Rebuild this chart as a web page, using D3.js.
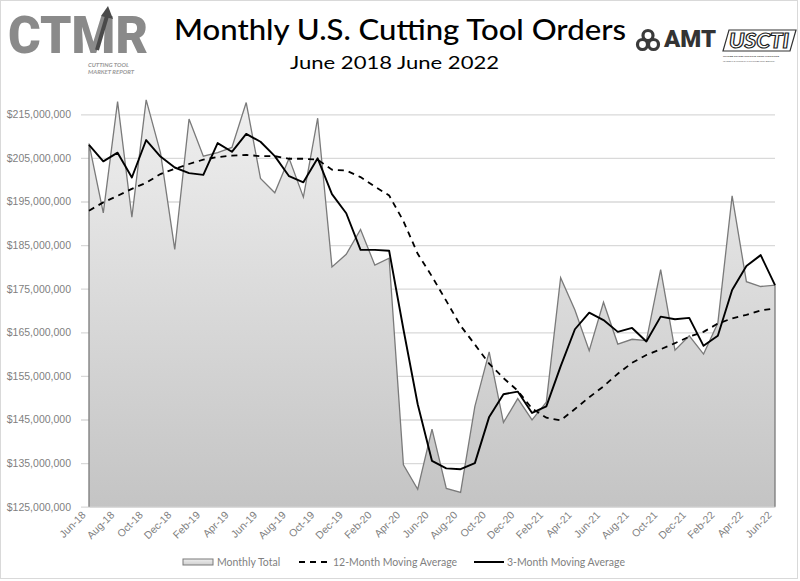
<!DOCTYPE html>
<html>
<head>
<meta charset="utf-8">
<script src="https://cdn.jsdelivr.net/npm/d3@7"></script>
<style>
  body { margin: 0; background: #fff; }
  svg { display: block; font-family: Lato, "Open Sans", sans-serif; }
</style>
</head>
<body>
<div id="chart"></div>
<script>
// Monthly U.S. cutting tool orders, values in millions of dollars
var months = ["Jun-18","Jul-18","Aug-18","Sep-18","Oct-18","Nov-18","Dec-18","Jan-19","Feb-19","Mar-19","Apr-19","May-19",
              "Jun-19","Jul-19","Aug-19","Sep-19","Oct-19","Nov-19","Dec-19","Jan-20","Feb-20","Mar-20","Apr-20","May-20",
              "Jun-20","Jul-20","Aug-20","Sep-20","Oct-20","Nov-20","Dec-20","Jan-21","Feb-21","Mar-21","Apr-21","May-21",
              "Jun-21","Jul-21","Aug-21","Sep-21","Oct-21","Nov-21","Dec-21","Jan-22","Feb-22","Mar-22","Apr-22","May-22","Jun-22"];

var monthlyTotal = [208.3,192.4,217.9,191.4,218.3,206.2,184.0,213.9,205.4,206.2,207.4,217.7,
                    200.3,197.0,204.9,196.0,214.1,180.0,182.9,188.6,180.4,182.0,134.6,129.0,
                    142.8,129.2,128.3,148.0,160.5,144.3,149.8,144.9,149.0,177.5,170.1,160.8,
                    171.9,162.3,163.4,163.1,179.4,160.9,164.2,160.0,167.1,196.3,176.6,175.5,175.8];

var movingAvg12 = [192.9,194.8,196.3,197.9,199.3,201.3,202.5,203.6,204.6,205.2,205.5,205.7,
                   205.4,205.4,204.8,204.8,204.6,202.3,202.1,200.6,198.4,196.4,190.5,183.0,
                   177.8,172.2,166.5,162.2,157.8,154.5,151.6,147.5,145.4,144.8,147.4,150.1,
                   152.6,155.5,158.0,159.8,161.1,162.5,164.0,165.1,167.0,168.2,169.0,170.0,170.5];

var movingAvg3 = [208.0,204.2,206.2,200.5,209.1,205.3,202.8,201.5,201.1,208.4,206.4,210.5,
                  208.7,205.4,200.8,199.4,204.9,196.7,192.3,183.9,183.9,183.7,165.7,148.5,
                  135.5,133.8,133.6,135.0,145.6,150.8,151.4,146.5,148.0,157.2,165.7,169.5,
                  167.8,165.1,166.0,162.9,168.6,168.0,168.3,161.9,164.2,174.7,180.2,182.7,175.8];

var yTicks = [125,135,145,155,165,175,185,195,205,215];
var xTickLabels = months.filter(function (d, i) { return i % 2 === 0; });

var W = 800, H = 581;
var plot = {left: 89, right: 775, top: 92.5, bottom: 506.7};

var svg = d3.select("#chart").append("svg")
    .attr("width", W).attr("height", H);

// outer chart border
svg.append("rect")
    .attr("x", 0.5).attr("y", 0.5)
    .attr("width", 797).attr("height", 578)
    .attr("fill", "#fff").attr("stroke", "#d9d9d9");

var xScale = d3.scalePoint().domain(months).range([plot.left, plot.right]);
var yScale = d3.scaleLinear().domain([125, 220]).range([plot.bottom, plot.top]);

var defs = svg.append("defs");
var grad = defs.append("linearGradient")
    .attr("id", "areaFill").attr("gradientUnits", "userSpaceOnUse")
    .attr("x1", 0).attr("y1", plot.top).attr("x2", 0).attr("y2", plot.bottom);
grad.append("stop").attr("offset", "0%").attr("stop-color", "#f0f0f0");
grad.append("stop").attr("offset", "100%").attr("stop-color", "#c4c4c4");

var legGrad = defs.append("linearGradient")
    .attr("id", "legFill").attr("x1", 0).attr("y1", 0).attr("x2", 0).attr("y2", 1);
legGrad.append("stop").attr("offset", "0%").attr("stop-color", "#eeeeee");
legGrad.append("stop").attr("offset", "100%").attr("stop-color", "#cfcfcf");

// gridlines + y labels (gridlines poke out a little left of the plot, like the original)
var yAxis = d3.axisLeft(yScale)
    .tickValues(yTicks)
    .tickSize(-(plot.right - plot.left))
    .tickPadding(18)
    .tickFormat(function (d) { return d3.format("$,.0f")(d * 1e6); });

var gy = svg.append("g")
    .attr("class", "y-axis")
    .attr("transform", "translate(" + plot.left + ",0)")
    .call(yAxis);
gy.select(".domain").remove();
gy.selectAll(".tick line")
    .attr("x1", -8)
    .attr("stroke", "#d9d9d9").attr("stroke-width", 1.3);
gy.selectAll(".tick text")
    .attr("fill", "#7f7f7f")
    .style("font-size", "10.5px");

// x axis
var xAxis = d3.axisBottom(xScale)
    .tickValues(xTickLabels)
    .tickSize(0)
    .tickPadding(0);

var gx = svg.append("g")
    .attr("class", "x-axis")
    .attr("transform", "translate(0," + plot.bottom + ")")
    .call(xAxis);
gx.select(".domain").attr("stroke", "#d9d9d9").attr("stroke-width", 1.3);
gx.selectAll(".tick text")
    .attr("fill", "#7f7f7f")
    .style("font-size", "10.5px")
    .attr("text-anchor", "end")
    .attr("dy", null)
    .attr("y", 0)
    .attr("transform", "translate(-3,9) rotate(-45)");

// monthly total area
var area = d3.area()
    .x(function (d, i) { return xScale(months[i]); })
    .y0(plot.bottom)
    .y1(function (d) { return yScale(d); });

svg.append("path")
    .datum(monthlyTotal)
    .attr("d", area)
    .attr("fill", "url(#areaFill)");

// outline of area: up the left edge, along the values, down the right edge
var outline = [[xScale(months[0]), plot.bottom]]
    .concat(monthlyTotal.map(function (d, i) { return [xScale(months[i]), yScale(d)]; }))
    .concat([[xScale(months[months.length - 1]), plot.bottom]]);

svg.append("path")
    .attr("d", d3.line()(outline))
    .attr("fill", "none")
    .attr("stroke", "#7a7a7a")
    .attr("stroke-width", 1.3);

var line = d3.line()
    .x(function (d, i) { return xScale(months[i]); })
    .y(function (d) { return yScale(d); });

svg.append("path")
    .datum(movingAvg12)
    .attr("d", line)
    .attr("fill", "none")
    .attr("stroke", "#000")
    .attr("stroke-width", 1.8)
    .attr("stroke-dasharray", "6,5");

svg.append("path")
    .datum(movingAvg3)
    .attr("d", line)
    .attr("fill", "none")
    .attr("stroke", "#000")
    .attr("stroke-width", 1.9)
    .attr("stroke-linejoin", "round");

// legend
var leg = svg.append("g").attr("class", "legend")
    .style("font-size", "10.5px").attr("fill", "#7f7f7f");

leg.append("rect")
    .attr("x", 183).attr("y", 559).attr("width", 30).attr("height", 6)
    .attr("fill", "url(#legFill)").attr("stroke", "#7a7a7a").attr("stroke-width", 1);
leg.append("text").attr("x", 217).attr("y", 566).text("Monthly Total");

leg.append("line")
    .attr("x1", 299).attr("x2", 330).attr("y1", 562).attr("y2", 562)
    .attr("stroke", "#000").attr("stroke-width", 2).attr("stroke-dasharray", "6,5");
leg.append("text").attr("x", 333).attr("y", 566).text("12-Month Moving Average");

leg.append("line")
    .attr("x1", 474).attr("x2", 504).attr("y1", 562).attr("y2", 562)
    .attr("stroke", "#000").attr("stroke-width", 2);
leg.append("text").attr("x", 507).attr("y", 566).text("3-Month Moving Average");

// titles
svg.append("text")
    .attr("x", 174).attr("y", 40)
    .attr("textLength", 452).attr("lengthAdjust", "spacingAndGlyphs")
    .style("font-size", "29px").style("font-weight", 500).attr("fill", "#000")
    .text("Monthly U.S. Cutting Tool Orders");

svg.append("text")
    .attr("x", 290).attr("y", 68.5)
    .attr("textLength", 209).attr("lengthAdjust", "spacingAndGlyphs")
    .style("font-size", "18px").attr("fill", "#000")
    .text("June 2018 June 2022");

// CTMR logo
var logo = svg.append("g").attr("class", "ctmr");
logo.append("text")
    .attr("x", 8).attr("y", 53)
    .attr("textLength", 140).attr("lengthAdjust", "spacingAndGlyphs")
    .style("font-family", "Roboto, 'Liberation Sans', sans-serif")
    .style("font-size", "52px").style("font-weight", 900)
    .attr("fill", "#8a8a8a")
    .text("CTMR");
logo.append("path")
    .attr("d", "M97,50 L107,16")
    .attr("stroke", "#4a4a4a").attr("stroke-width", 4).attr("fill", "none");
logo.append("path")
    .attr("d", "M101,16 L108,6 L113,19 Z")
    .attr("fill", "#4a4a4a");
logo.append("text")
    .attr("x", 88).attr("y", 67)
    .style("font-size", "6px").style("font-style", "italic").style("font-weight", 700)
    .attr("fill", "#9a9a9a").text("CUTTING TOOL");
logo.append("text")
    .attr("x", 88).attr("y", 73.5)
    .style("font-size", "6px").style("font-style", "italic").style("font-weight", 700)
    .attr("fill", "#9a9a9a").text("MARKET REPORT");

// AMT logo
var amt = svg.append("g").attr("class", "amt");
[[648, 35.5], [642.5, 44.5], [653.5, 44.5]].forEach(function (c) {
  amt.append("circle").attr("cx", c[0]).attr("cy", c[1]).attr("r", 5)
     .attr("fill", "none").attr("stroke", "#3a3a3a").attr("stroke-width", 3.2);
});
amt.append("text")
    .attr("x", 664).attr("y", 47)
    .attr("textLength", 52).attr("lengthAdjust", "spacingAndGlyphs")
    .style("font-family", "Roboto, 'Liberation Sans', sans-serif")
    .style("font-size", "23px").style("font-weight", 900)
    .attr("fill", "#333").text("AMT");

// USCTI logo
var usc = svg.append("g").attr("class", "uscti");
usc.append("path")
    .attr("d", "M729,30 L796,30 L790,51 L723,51 Z")
    .attr("fill", "#fff").attr("stroke", "#333").attr("stroke-width", 1.2);
usc.append("text")
    .attr("x", 729).attr("y", 48)
    .attr("textLength", 60).attr("lengthAdjust", "spacingAndGlyphs")
    .style("font-size", "20px").style("font-weight", 900).style("font-style", "italic")
    .attr("fill", "#fff").attr("stroke", "#222").attr("stroke-width", 1.1)
    .text("USCTI");
usc.append("text")
    .attr("x", 723).attr("y", 57)
    .attr("textLength", 56).attr("lengthAdjust", "spacingAndGlyphs")
    .style("font-size", "2.6px").style("font-weight", 700).attr("fill", "#333")
    .text("UNITED STATES CUTTING TOOL INSTITUTE");
usc.append("text")
    .attr("x", 723).attr("y", 62)
    .attr("textLength", 52).attr("lengthAdjust", "spacingAndGlyphs")
    .style("font-size", "2.2px").attr("fill", "#555")
    .text("LEADING THE FUTURE OF THE CUTTING TOOL INDUSTRY");
</script>
</body>
</html>
